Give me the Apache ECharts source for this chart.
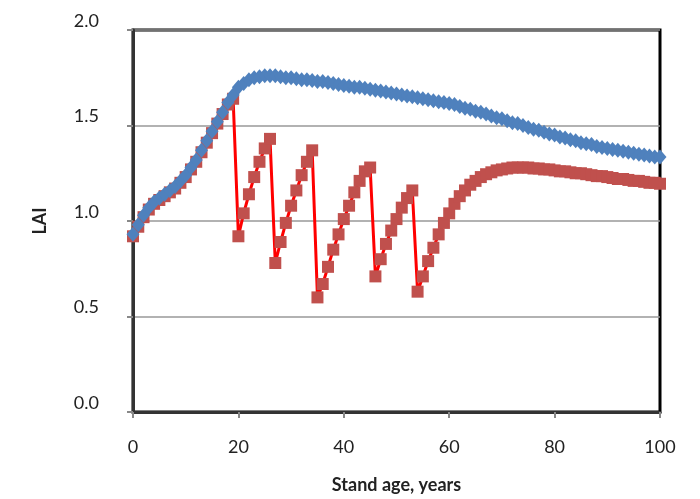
<!DOCTYPE html>
<html>
<head>
<meta charset="utf-8">
<script src="https://cdn.jsdelivr.net/npm/echarts@6/dist/echarts.min.js"></script>
<style>
  html, body { margin: 0; padding: 0; background: #fff; }
  #chart { width: 700px; height: 499px; }
</style>
</head>
<body>
<div id="chart"></div>
<script>
// stand age, years
var ages = [
  0, 1, 2, 3, 4, 5, 6, 7, 8, 9, 10, 11, 12, 13, 14, 15, 16, 17, 18, 19,
  20, 21, 22, 23, 24, 25, 26, 27, 28, 29, 30, 31, 32, 33, 34, 35, 36, 37, 38, 39,
  40, 41, 42, 43, 44, 45, 46, 47, 48, 49, 50, 51, 52, 53, 54, 55, 56, 57, 58, 59,
  60, 61, 62, 63, 64, 65, 66, 67, 68, 69, 70, 71, 72, 73, 74, 75, 76, 77, 78, 79,
  80, 81, 82, 83, 84, 85, 86, 87, 88, 89, 90, 91, 92, 93, 94, 95, 96, 97, 98, 99, 100
];

// LAI without thinning (blue)
var laiBlue = [
  0.93, 0.98, 1.03, 1.07, 1.10, 1.12, 1.14, 1.16, 1.18, 1.21,
  1.24, 1.28, 1.32, 1.37, 1.42, 1.47, 1.52, 1.57, 1.62, 1.66,
  1.70, 1.72, 1.74, 1.75, 1.755, 1.76, 1.76, 1.76, 1.755, 1.75,
  1.75, 1.745, 1.74, 1.74, 1.735, 1.73, 1.73, 1.725, 1.72, 1.715,
  1.71, 1.705, 1.70, 1.70, 1.695, 1.69, 1.685, 1.68, 1.675, 1.67,
  1.665, 1.66, 1.655, 1.65, 1.645, 1.64, 1.635, 1.63, 1.625, 1.62,
  1.615, 1.61, 1.60, 1.59, 1.585, 1.575, 1.57, 1.56, 1.55, 1.54,
  1.535, 1.525, 1.515, 1.51, 1.50, 1.49, 1.48, 1.475, 1.465, 1.455,
  1.45, 1.44, 1.435, 1.425, 1.42, 1.41, 1.405, 1.40, 1.39, 1.385,
  1.38, 1.375, 1.37, 1.365, 1.36, 1.355, 1.35, 1.345, 1.34, 1.335,
  1.335
];

// LAI with thinnings (red)
var laiRed = [
  0.92, 0.97, 1.02, 1.06, 1.09, 1.11, 1.13, 1.15, 1.17, 1.20,
  1.23, 1.27, 1.31, 1.36, 1.41, 1.46, 1.51, 1.56, 1.61, 1.64,
  0.92, 1.04, 1.14, 1.23, 1.31, 1.38, 1.43, 0.78, 0.89, 0.99,
  1.08, 1.16, 1.24, 1.31, 1.37, 0.60, 0.67, 0.76, 0.85, 0.93,
  1.01, 1.08, 1.15, 1.21, 1.26, 1.28, 0.71, 0.80, 0.88, 0.95,
  1.01, 1.07, 1.12, 1.16, 0.63, 0.71, 0.79, 0.86, 0.93, 0.99,
  1.04, 1.09, 1.13, 1.16, 1.19, 1.21, 1.23, 1.245, 1.255, 1.265,
  1.27, 1.275, 1.28, 1.28, 1.28, 1.28, 1.275, 1.275, 1.27, 1.27,
  1.265, 1.26, 1.26, 1.255, 1.25, 1.25, 1.245, 1.24, 1.235, 1.235,
  1.23, 1.225, 1.22, 1.22, 1.215, 1.21, 1.21, 1.205, 1.20, 1.20,
  1.195
];

function pairs(ys) {
  return ages.map(function (a, i) { return [a, ys[i]]; });
}

var chart = echarts.init(document.getElementById('chart'));
chart.setOption({
  animation: false,
  backgroundColor: '#fff',
  textStyle: { fontFamily: 'Lato, "Open Sans", sans-serif' },
  grid: {
    left: 133, right: 40, top: 30, bottom: 87,
    outerBoundsMode: 'none', containLabel: false,
    show: true, borderColor: '#000', borderWidth: 3
  },
  xAxis: {
    type: 'value', min: 0, max: 100, interval: 20,
    name: 'Stand age, years', nameLocation: 'middle', nameGap: 64,
    nameTextStyle: { fontSize: 18, fontWeight: 'bold', color: '#222' },
    axisLine: { show: true, lineStyle: { color: '#333', width: 3 } },
    axisTick: { show: true, length: 6, lineStyle: { color: '#888', width: 2 } },
    axisLabel: { fontSize: 18, color: '#222', margin: 26 },
    splitLine: { show: false }
  },
  yAxis: {
    type: 'value', min: 0, max: 2, interval: 0.5,
    name: 'LAI', nameLocation: 'middle', nameGap: 84, nameRotate: 90,
    nameTextStyle: { fontSize: 18, fontWeight: 'bold', color: '#222' },
    axisLine: { show: true, lineStyle: { color: '#333', width: 3 } },
    axisTick: { show: true, length: 6, lineStyle: { color: '#888', width: 2 } },
    axisLabel: {
      fontSize: 18, color: '#222', margin: 34, verticalAlign: 'bottom',
      formatter: function (v) { return v.toFixed(1); }
    },
    splitLine: { show: true, lineStyle: { color: '#999', width: 1.5 } }
  },
  series: [
    {
      name: 'thinned', type: 'line', data: pairs(laiRed),
      symbol: 'rect', symbolSize: 12, showAllSymbol: true,
      itemStyle: { color: '#c0504d' },
      lineStyle: { color: '#ff0000', width: 3 }
    },
    {
      name: 'unthinned', type: 'line', data: pairs(laiBlue),
      symbol: 'diamond', symbolSize: [13, 15], showAllSymbol: true,
      itemStyle: { color: '#4f81bd' },
      lineStyle: { color: '#4f81bd', width: 3 }
    }
  ]
});
</script>
</body>
</html>
